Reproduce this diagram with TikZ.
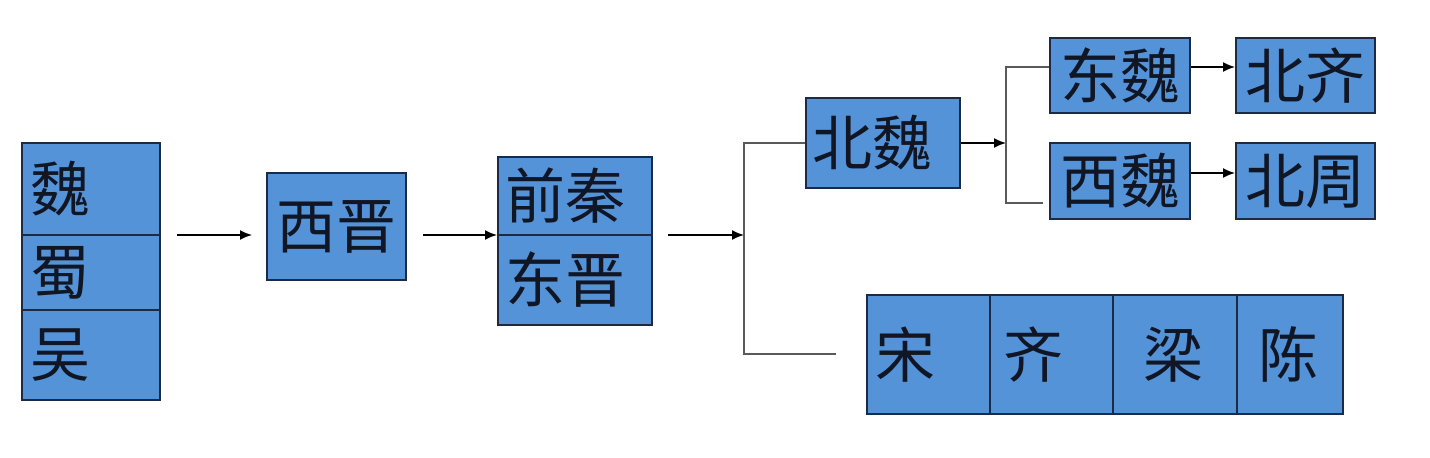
\documentclass[tikz,border=0pt]{standalone}
\usepackage{fontspec}
\setmainfont{Noto Sans CJK SC}
\usetikzlibrary{arrows.meta}
\definecolor{boxfill}{RGB}{84,147,216}
\definecolor{boxline}{RGB}{28,42,70}
\definecolor{txt}{RGB}{16,22,36}
\definecolor{brk}{RGB}{90,90,90}
\tikzset{
  cell/.style={draw=boxline, fill=boxfill, line width=1pt, inner ysep=0pt,
    text=txt, font=\fontsize{30}{30}\selectfont},
  lcell/.style={cell, align=left},
  arr/.style={draw=black, line width=0.8pt, -{Latex[length=6pt,width=5pt]}},
  brline/.style={draw=brk, line width=1pt}
}
\begin{document}
\begin{tikzpicture}[x=0.5pt,y=-0.5pt]
\useasboundingbox (0,0) rectangle (1430,458);
% left column
\node[lcell, text width=61pt, inner xsep=4pt, minimum height=46pt] (wei) at (91,189) {魏};
\node[lcell, text width=61pt, inner xsep=4pt, minimum height=37.5pt] (shu) at (91,272.5) {蜀};
\node[lcell, text width=61pt, inner xsep=4pt, minimum height=45pt] (wu) at (91,355) {吴};
% xijin
\node[cell, minimum width=69.5pt, minimum height=53.5pt, inner xsep=0pt] (xijin) at (336.5,226.5) {西晋};
% qianqin / dongjin
\node[lcell, text width=70pt, inner xsep=3.5pt, minimum height=39pt] (qianqin) at (575,196) {前秦};
\node[lcell, text width=70pt, inner xsep=3.5pt, minimum height=45pt] (dongjin) at (575,280) {东晋};
% beiwei
\node[lcell, text width=71pt, inner xsep=3pt, minimum height=45pt] (beiwei) at (883,143) {北魏};
% right boxes
\node[cell, minimum width=70pt, minimum height=37.5pt, inner xsep=0pt] (dongwei) at (1120,75.5) {东魏};
\node[cell, minimum width=69.5pt, minimum height=37.5pt, inner xsep=0pt] (beiqi) at (1305.5,75.5) {北齐};
\node[cell, minimum width=70pt, minimum height=38pt, inner xsep=0pt] (xiwei) at (1120,181) {西魏};
\node[cell, minimum width=69.5pt, minimum height=38pt, inner xsep=0pt] (beizhou) at (1305.5,181) {北周};
% song qi liang chen
\node[lcell, text width=53.5pt, inner xsep=4pt, minimum height=59.5pt] (song) at (928.5,354.5) {宋};
\node[lcell, text width=48.5pt, inner xsep=6.5pt, minimum height=59.5pt] (qi) at (1051.5,354.5) {齐};
\node[lcell, text width=32pt, inner xsep=15pt, minimum height=59.5pt] (liang) at (1175,354.5) {梁};
\node[lcell, text width=32pt, inner xsep=10.5pt, minimum height=59.5pt] (chen) at (1290,354.5) {陈};
% arrows main chain
\coordinate (mainy) at (0,235);
\draw[arr, shorten <=8pt, shorten >=7pt] (wei.east |- mainy) -- (xijin.west |- mainy);
\draw[arr, shorten <=8pt] (xijin.east |- mainy) -- (qianqin.west |- mainy);
\coordinate (br) at (744,235);
\coordinate (brtop) at (744,143);
\coordinate (brbot) at (744,354);
\coordinate (brend) at (836,354);
\draw[arr, shorten <=7.5pt] (qianqin.east |- br) -- (br);
\draw[brline] (beiwei.west) -- (brtop) -- (brbot) -- (brend);
% beiwei split
\coordinate (sp) at (1006,143);
\coordinate (sptop) at (1006,67);
\coordinate (spbot) at (1006,203);
\coordinate (spend) at (1043,203);
\draw[arr] (beiwei.east) -- (sp);
\draw[brline] (dongwei.west |- sptop) -- (sptop) -- (spbot) -- (spend);
\draw[arr] (dongwei.east |- sptop) -- (beiqi.west |- sptop);
\draw[arr] (xiwei.east |- 0,173) -- (beizhou.west |- 0,173);
\end{tikzpicture}
\end{document}
